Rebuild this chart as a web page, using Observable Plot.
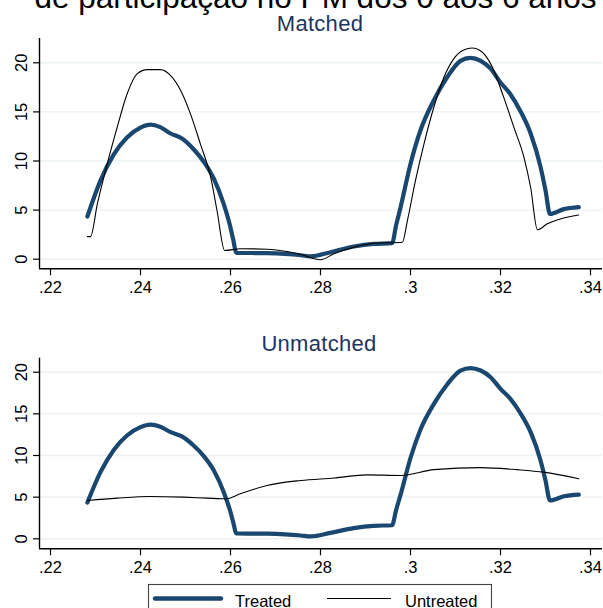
<!DOCTYPE html>
<html>
<head>
<meta charset="utf-8">
<script src="https://cdn.jsdelivr.net/npm/d3@7"></script>
<script src="https://cdn.jsdelivr.net/npm/@observablehq/plot@0.6"></script>
<style>
  html, body { margin: 0; padding: 0; background: #fff; }
  #wrap { position: relative; width: 603px; height: 608px; overflow: hidden; background: #fff; font-family: "Liberation Sans", Arial, sans-serif; }
  .panel { position: absolute; left: 0; }
  #overlay { position: absolute; left: 0; top: 0; pointer-events: none; }
</style>
</head>
<body>
<div id="wrap">
  <div id="p1" class="panel" style="top:0px"></div>
  <div id="p2" class="panel" style="top:300px"></div>
  <svg id="overlay" width="603" height="608"></svg>
</div>
<script>
// ---- data ----
const mainTitle = "de participação no PM dos 0 aos 6 anos";
const panelTitles = ["Matched", "Unmatched"];
const seriesNames = ["Treated", "Untreated"];

const xTicks = [0.22, 0.24, 0.26, 0.28, 0.30, 0.32, 0.34];
const xTickLabels = [".22", ".24", ".26", ".28", ".3", ".32", ".34"];
const yTicks = [0, 5, 10, 15, 20];
const yTickLabels = ["0", "5", "10", "15", "20"];

const treatedX = [0.2282, 0.2311, 0.2341, 0.2370, 0.2400, 0.2422, 0.2444, 0.2467, 0.2493, 0.2518, 0.2541, 0.2563, 0.2585, 0.2599, 0.2606, 0.2613, 0.2681, 0.2756, 0.2778, 0.2822, 0.2874, 0.2918, 0.2959, 0.2968, 0.2978, 0.3000, 0.3022, 0.3052, 0.3081, 0.3111, 0.3133, 0.3156, 0.3178, 0.3200, 0.3222, 0.3244, 0.3267, 0.3289, 0.3300, 0.3310, 0.3341, 0.3374];
const treatedY = [4.35, 8.0, 10.7, 12.4, 13.4, 13.7, 13.45, 12.8, 12.26, 11.2, 9.9, 8.2, 5.6, 3.4, 2.0, 0.65, 0.61, 0.4, 0.28, 0.71, 1.29, 1.56, 1.63, 3.45, 5.3, 9.7, 13.1, 16.2, 18.5, 20.2, 20.5, 20.2, 19.4, 18.0, 16.8, 15.1, 12.8, 9.4, 7.0, 4.6, 5.1, 5.3];

const matchedUntreatedX = [0.2282, 0.2289, 0.2304, 0.2326, 0.2348, 0.2370, 0.2393, 0.2415, 0.2444, 0.2467, 0.2489, 0.2511, 0.2533, 0.2556, 0.2570, 0.2587, 0.2622, 0.2681, 0.2726, 0.2756, 0.2800, 0.2830, 0.2874, 0.2918, 0.2982, 0.2993, 0.3011, 0.3030, 0.3052, 0.3074, 0.3096, 0.3118, 0.3137, 0.3159, 0.3182, 0.3207, 0.3230, 0.3252, 0.3267, 0.3282, 0.3304, 0.3333, 0.3374];
const matchedUntreatedY = [2.3, 2.3, 5.6, 9.7, 13.4, 16.8, 18.9, 19.3, 19.3, 18.7, 17.2, 14.8, 11.75, 8.35, 4.96, 0.89, 1.06, 1.02, 0.78, 0.48, -0.06, 0.55, 1.22, 1.63, 1.73, 3.9, 8.0, 11.75, 15.5, 18.5, 20.4, 21.3, 21.5, 21.1, 19.55, 16.5, 13.4, 10.4, 7.3, 3.0, 3.6, 4.1, 4.5];

const unmatchedUntreatedX = [0.2282, 0.2348, 0.2422, 0.2496, 0.2548, 0.2589, 0.2622, 0.2681, 0.2756, 0.2830, 0.2904, 0.2978, 0.3052, 0.3156, 0.3237, 0.3296, 0.3374];
const unmatchedUntreatedY = [4.6, 4.88, 5.08, 5.0, 4.88, 4.8, 5.4, 6.4, 7.0, 7.3, 7.68, 7.6, 8.3, 8.55, 8.3, 8.0, 7.2];

// ---- styling / layout ----
const treatedColor = "#1a476f";
const titleColor = "#1c3560";
const font = "'Liberation Sans', Arial, sans-serif";
const xDomain = [0.22 - 11 / 4500, 0.34 + 12 / 4500];

function panel(ux, uy, yDomain, marginTop, marginBottom) {
  const treated = treatedX.map((x, i) => ({x, y: treatedY[i]}));
  const untreated = ux.map((x, i) => ({x, y: uy[i]}));
  return Plot.plot({
    width: 603,
    height: 300,
    marginLeft: 39,
    marginRight: 1,
    marginTop,
    marginBottom,
    style: {fontFamily: font, fontSize: "16.5px", background: "transparent", color: "#000", overflow: "visible"},
    x: {domain: xDomain},
    y: {domain: yDomain},
    marks: [
      Plot.ruleY(yTicks, {stroke: "#eaf2f3", strokeWidth: 1.4, strokeOpacity: 1}),
      Plot.axisX({ticks: xTicks, tickFormat: d => xTickLabels[xTicks.indexOf(d)], tickSize: 7, tickPadding: 5, stroke: "#000", strokeWidth: 1.2, strokeOpacity: 1, fill: "#000", fontSize: 16.5, label: null}),
      Plot.axisY({ticks: yTicks, tickFormat: () => "", tickSize: 6, stroke: "#000", strokeWidth: 1.2, strokeOpacity: 1, label: null}),
      Plot.text(yTicks, {y: d => d, text: (d, i) => yTickLabels[i], frameAnchor: "left", dx: -18, rotate: -90, fontSize: 16.5, fill: "#000", textAnchor: "middle", lineAnchor: "middle"}),
      Plot.ruleX([xDomain[0]], {stroke: "#000", strokeWidth: 1.4}),
      Plot.ruleY([yDomain[0]], {stroke: "#000", strokeWidth: 1.4}),
      Plot.line(treated, {x: "x", y: "y", stroke: treatedColor, strokeWidth: 4.2, curve: "monotone-x", strokeLinejoin: "round", strokeLinecap: "round"}),
      Plot.line(untreated, {x: "x", y: "y", stroke: "#000", strokeWidth: 1.1, curve: "monotone-x"})
    ]
  });
}

document.getElementById("p1").append(panel(matchedUntreatedX, matchedUntreatedY, [-0.978, 22.474], 38, 31.7));
document.getElementById("p2").append(panel(unmatchedUntreatedX, unmatchedUntreatedY, [-1.2, 21.68], 57.7, 51.7));

// ---- titles and legend ----
const ov = d3.select("#overlay").style("font-family", font);
ov.append("text").attr("x", 315.5).attr("y", 8).attr("text-anchor", "middle").attr("font-size", 31.5).attr("fill", "#000").text(mainTitle);
ov.append("text").attr("x", 320).attr("y", 31).attr("text-anchor", "middle").attr("font-size", 22).attr("fill", titleColor).attr("letter-spacing", 0.3).text(panelTitles[0]);
ov.append("text").attr("x", 319).attr("y", 350.5).attr("text-anchor", "middle").attr("font-size", 22).attr("fill", titleColor).attr("letter-spacing", 0.3).text(panelTitles[1]);

const lg = ov.append("g");
lg.append("rect").attr("x", 148.5).attr("y", 584.5).attr("width", 343).attr("height", 40).attr("fill", "#fff").attr("stroke", "#444").attr("stroke-width", 1.1);
lg.append("line").attr("x1", 155).attr("x2", 221).attr("y1", 598.5).attr("y2", 598.5).attr("stroke", treatedColor).attr("stroke-width", 4.5).attr("stroke-linecap", "round");
lg.append("text").attr("x", 235).attr("y", 606.5).attr("font-size", 16.5).attr("fill", "#000").text(seriesNames[0]);
lg.append("line").attr("x1", 327).attr("x2", 391).attr("y1", 598.5).attr("y2", 598.5).attr("stroke", "#000").attr("stroke-width", 1.1);
lg.append("text").attr("x", 405).attr("y", 606.5).attr("font-size", 16.5).attr("fill", "#000").text(seriesNames[1]);
</script>
</body>
</html>
